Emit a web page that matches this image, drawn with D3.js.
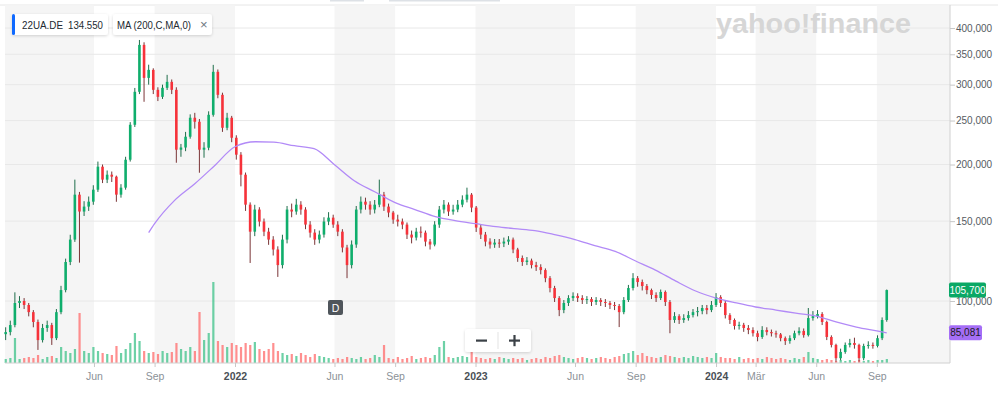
<!DOCTYPE html>
<html>
<head>
<meta charset="utf-8">
<script src="https://cdn.jsdelivr.net/npm/d3@7"></script>
<style>
  html, body { margin: 0; padding: 0; background: #fff; overflow: hidden; }
  svg { display: block; font-family: "Liberation Sans", Arial, sans-serif; }
</style>
</head>
<body>
<svg id="chart"></svg>
<script>
// weekly candles, 22UA.DE
const weeks = d3.timeMonday.range(new Date(2021, 0, 18), new Date(2024, 8, 17));

const open = [
  84.5, 85.4, 88.5, 99.0, 100.0, 98.0, 94.5, 89.9, 82.0, 87.2,
  88.5, 82.8, 94.5, 105.7, 121.9, 136.6, 171.6, 157.5, 161.5, 165.6,
  176.0, 197.8, 185.2, 189.9, 188.0, 171.6, 177.8, 204.9, 244.7, 289.3,
  367.1, 310.5, 323.4, 292.2, 282.0, 295.2, 304.3, 292.2, 215.6, 218.0,
  230.3, 253.6, 248.5, 215.6, 217.8, 257.4, 320.2, 284.9, 241.0, 253.6,
  229.1, 210.2, 189.9, 163.1, 142.2, 159.1, 149.7, 142.2, 136.6, 129.9,
  120.0, 136.6, 159.1, 157.5, 163.1, 159.1, 147.4, 141.5, 136.6, 140.1,
  149.7, 152.7, 147.4, 142.2, 131.2, 120.0, 133.2, 159.1, 165.6, 163.1,
  159.1, 163.1, 171.6, 161.5, 156.7, 151.2, 149.7, 147.4, 140.1, 138.0,
  142.2, 141.5, 135.2, 133.2, 147.4, 159.1, 163.1, 157.5, 159.1, 163.1,
  167.3, 171.6, 160.7, 145.2, 140.1, 135.2, 133.2, 134.5, 133.9, 135.2,
  136.6, 129.9, 124.4, 121.9, 122.8, 120.0, 118.8, 117.0, 112.3, 106.8,
  101.5, 95.5, 99.0, 101.5, 102.6, 101.5, 100.5, 101.0, 99.5, 100.5,
  99.5, 99.0, 98.0, 97.5, 94.5, 100.5, 106.8, 112.3, 110.1, 107.9,
  105.7, 103.1, 101.5, 104.7, 99.5, 90.8, 92.6, 90.8, 91.7, 93.1,
  94.5, 95.0, 96.5, 95.5, 98.0, 102.0, 99.0, 93.1, 90.8, 88.1,
  88.6, 87.2, 86.3, 84.9, 83.3, 86.3, 85.4, 84.9, 84.4, 82.8,
  81.6, 82.8, 84.9, 85.9, 84.1, 91.7, 92.6, 93.6, 89.9, 83.3,
  80.0, 74.8, 77.2, 80.0, 80.8, 80.0, 74.8, 79.6, 80.0, 79.6,
  82.8, 90.8
];

const high = [
  87.5, 90.5, 104.5, 102.5, 101.5, 99.0, 95.5, 91.0, 89.0, 90.5,
  89.5, 96.0, 108.0, 124.0, 140.0, 185.2, 174.0, 166.0, 170.0, 180.0,
  203.0, 200.0, 194.0, 193.0, 189.0, 181.0, 208.0, 248.0, 295.0, 376.4,
  372.0, 332.0, 326.0, 296.0, 300.0, 315.3, 308.0, 296.0, 222.0, 236.0,
  258.0, 260.0, 252.0, 224.0, 262.0, 331.7, 324.0, 288.0, 260.0, 256.0,
  232.0, 213.0, 192.0, 165.0, 163.0, 161.0, 152.0, 145.0, 139.0, 132.0,
  140.0, 162.0, 164.0, 168.0, 166.0, 161.0, 150.0, 144.0, 143.0, 153.0,
  157.0, 155.0, 150.0, 144.0, 133.0, 136.0, 162.0, 170.0, 169.0, 166.0,
  167.0, 185.2, 174.0, 164.0, 158.0, 155.0, 152.0, 149.0, 143.0, 145.0,
  146.0, 143.0, 137.0, 150.0, 162.0, 167.0, 165.0, 163.0, 167.0, 171.0,
  177.8, 173.0, 162.0, 147.0, 142.0, 137.5, 137.0, 137.0, 138.0, 139.0,
  138.0, 131.0, 126.0, 125.0, 124.0, 122.0, 120.5, 118.0, 113.5, 108.0,
  102.5, 100.5, 103.0, 104.5, 104.0, 103.0, 102.5, 102.0, 102.0, 101.5,
  101.0, 100.0, 99.5, 98.5, 102.0, 108.5, 115.2, 113.5, 111.5, 109.0,
  106.5, 104.5, 106.0, 105.5, 100.5, 94.5, 93.5, 93.5, 95.0, 96.0,
  97.0, 98.0, 98.0, 100.0, 104.1, 103.0, 100.0, 94.0, 91.5, 90.0,
  89.5, 88.5, 87.5, 86.0, 88.0, 87.5, 86.5, 86.0, 85.0, 83.5,
  84.0, 86.0, 87.5, 87.0, 96.5, 95.0, 95.5, 94.5, 90.5, 84.0,
  80.5, 78.5, 81.0, 82.5, 83.0, 80.5, 80.5, 81.5, 81.0, 84.0,
  92.0, 106.0
];

const low = [
  82.0, 84.0, 87.5, 96.5, 96.0, 92.5, 87.5, 78.0, 81.0, 85.5,
  80.0, 82.0, 93.5, 104.5, 120.0, 135.0, 121.5, 154.0, 158.0, 163.0,
  174.0, 182.0, 182.0, 183.0, 165.5, 169.0, 176.0, 203.0, 242.0, 286.0,
  275.0, 300.0, 286.0, 276.0, 279.0, 292.0, 286.0, 201.8, 208.0, 214.0,
  228.0, 240.0, 191.8, 207.0, 215.0, 255.0, 280.0, 236.0, 238.0, 224.0,
  205.0, 179.0, 158.0, 121.3, 139.0, 146.0, 139.0, 133.0, 126.0, 113.0,
  118.0, 134.0, 153.0, 155.0, 155.0, 144.0, 138.0, 133.0, 134.0, 138.0,
  147.0, 145.0, 139.0, 128.0, 112.3, 118.0, 131.0, 156.0, 159.0, 155.0,
  156.0, 161.0, 158.0, 153.0, 148.0, 146.0, 144.0, 137.0, 134.0, 136.0,
  138.0, 132.0, 129.9, 132.0, 145.0, 156.0, 154.0, 155.0, 157.0, 161.0,
  165.0, 157.0, 142.0, 137.0, 132.0, 130.5, 131.0, 131.0, 131.5, 133.0,
  127.5, 122.0, 119.5, 120.0, 118.0, 116.5, 114.5, 110.0, 104.5, 99.5,
  92.6, 94.0, 97.5, 100.0, 99.5, 98.5, 98.5, 97.5, 98.0, 97.5,
  97.0, 96.0, 95.5, 87.6, 93.5, 99.5, 105.5, 107.5, 105.5, 103.5,
  101.0, 99.5, 100.5, 97.5, 84.9, 89.5, 89.0, 89.5, 90.5, 92.0,
  92.5, 93.5, 93.5, 94.5, 97.0, 97.0, 91.5, 89.0, 86.5, 86.5,
  85.5, 84.5, 83.5, 81.5, 82.5, 84.0, 83.5, 83.0, 81.5, 80.0,
  80.5, 82.0, 84.0, 83.0, 83.5, 90.5, 91.5, 88.5, 82.0, 79.0,
  73.5, 74.0, 76.5, 79.0, 78.5, 73.5, 74.0, 78.5, 78.5, 79.0,
  82.0, 90.0
];

const close = [
  85.4, 88.5, 99.0, 100.0, 98.0, 94.5, 89.9, 82.0, 87.2, 88.5,
  82.8, 94.5, 105.7, 121.9, 136.6, 171.6, 157.5, 161.5, 165.6, 176.0,
  197.8, 185.2, 189.9, 188.0, 171.6, 177.8, 204.9, 244.7, 289.3, 367.1,
  310.5, 323.4, 292.2, 282.0, 295.2, 304.3, 292.2, 215.6, 218.0, 230.3,
  253.6, 248.5, 215.6, 217.8, 257.4, 320.2, 284.9, 241.0, 253.6, 229.1,
  210.2, 189.9, 163.1, 142.2, 159.1, 149.7, 142.2, 136.6, 129.9, 120.0,
  136.6, 159.1, 157.5, 163.1, 159.1, 147.4, 141.5, 136.6, 140.1, 149.7,
  152.7, 147.4, 142.2, 131.2, 120.0, 133.2, 159.1, 165.6, 163.1, 159.1,
  163.1, 171.6, 161.5, 156.7, 151.2, 149.7, 147.4, 140.1, 138.0, 142.2,
  141.5, 135.2, 133.2, 147.4, 159.1, 163.1, 157.5, 159.1, 163.1, 167.3,
  171.6, 160.7, 145.2, 140.1, 135.2, 133.2, 134.5, 133.9, 135.2, 136.6,
  129.9, 124.4, 121.9, 122.8, 120.0, 118.8, 117.0, 112.3, 106.8, 101.5,
  95.5, 99.0, 101.5, 102.6, 101.5, 100.5, 101.0, 99.5, 100.5, 99.5,
  99.0, 98.0, 97.5, 94.5, 100.5, 106.8, 112.3, 110.1, 107.9, 105.7,
  103.1, 101.5, 104.7, 99.5, 90.8, 92.6, 90.8, 91.7, 93.1, 94.5,
  95.0, 96.5, 95.5, 98.0, 102.0, 99.0, 93.1, 90.8, 88.1, 88.6,
  87.2, 86.3, 84.9, 83.3, 86.3, 85.4, 84.9, 84.4, 82.8, 81.6,
  82.8, 84.9, 85.9, 84.1, 91.7, 92.6, 93.6, 89.9, 83.3, 80.0,
  74.8, 77.2, 80.0, 80.8, 80.0, 74.8, 79.6, 80.0, 79.6, 82.8,
  90.8, 105.7
];

// volume in thousand shares
const volume = [
  4, 5, 25, 4, 5, 6, 5, 8, 4, 6,
  7, 5, 16, 12, 10, 14, 50, 12, 10, 16,
  12, 10, 9, 8, 17, 10, 14, 20, 30, 22,
  12, 10, 11, 9, 12, 10, 11, 20, 14, 12,
  16, 12, 51, 23, 30, 81, 22, 18, 16, 20,
  18, 16, 20, 18, 21, 14, 12, 14, 20, 12,
  10, 8, 9, 7, 10, 8, 6, 9, 7, 6,
  5, 4, 5, 4, 6, 5, 4, 6, 4, 5,
  8, 6, 18, 5, 4, 6, 4, 5, 7, 4,
  5, 6, 5, 8, 16, 22, 6, 5, 6, 7,
  6, 13, 6, 5, 4, 5, 4, 6, 5, 4,
  5, 4, 5, 3, 4, 5, 4, 6, 5, 7,
  8, 6, 5, 4, 5, 6, 5, 4, 5, 6,
  5, 4, 6, 7, 9, 10, 12, 8, 10, 7,
  6, 5, 6, 8, 7, 6, 5, 6, 5, 7,
  6, 5, 6, 5, 10, 6, 5, 5, 4, 6,
  4, 5, 4, 5, 4, 6, 5, 4, 5, 4,
  3, 5, 4, 6, 11, 5, 4, 3, 4, 3,
  2, 3, 2, 3, 2, 3, 2, 3, 2, 3,
  3, 4
];

// 200-day moving average, read at month starts
const maDates = [
  "2021-08-23", "2021-09-01", "2021-10-01", "2021-11-01", "2021-12-01",
  "2022-01-01", "2022-02-01", "2022-03-01", "2022-04-01", "2022-05-01",
  "2022-06-01", "2022-07-01", "2022-08-01", "2022-09-01", "2022-10-01",
  "2022-11-01", "2022-12-01", "2023-01-01", "2023-02-01", "2023-03-01",
  "2023-04-01", "2023-05-01", "2023-06-01", "2023-07-01", "2023-08-01",
  "2023-09-01", "2023-10-01", "2023-11-01", "2023-12-01", "2024-01-01",
  "2024-02-01", "2024-03-01", "2024-04-01", "2024-05-01", "2024-06-01",
  "2024-07-01", "2024-08-01", "2024-09-01", "2024-09-16"
];
const maValues = [
  141.5, 148.1, 166.5, 181.4, 198.8,
  218.9, 224.5, 224.0, 220.0, 216.7,
  199.8, 184.2, 174.2, 164.8, 159.1,
  153.5, 150.4, 148.1, 145.9, 144.4,
  143.0, 140.1, 136.6, 132.5, 128.6,
  122.5, 117.0, 110.6, 105.2, 101.5,
  99.0, 97.0, 95.5, 94.0, 92.6,
  89.9, 87.6, 85.9, 85.081
];

const xTickDates = [
  "2021-06-01", "2021-09-01", "2022-01-01", "2022-06-01", "2022-09-01", "2023-01-01",
  "2023-06-01", "2023-09-01", "2024-01-01", "2024-03-01", "2024-06-01", "2024-09-01"
];
const xTickLabels = ["Jun", "Sep", "2022", "Jun", "Sep", "2023", "Jun", "Sep", "2024", "Mär", "Jun", "Sep"];
const yTicks = [100, 150, 200, 250, 300, 350, 400];

const lastPrice = 105.7;
const lastMa = 85.081;

const width = 998;
const height = 397;
const plotLeft = 5;
const plotRight = 950;
const plotTop = 5;
const plotBottom = 363;

const green = "#0fae6c";
const red = "#f6323a";

const parse = d3.timeParse("%Y-%m-%d");
const de = d3.formatLocale({ decimal: ",", thousands: ".", grouping: [3], currency: ["", " €"] });
const fmt = de.format(".3f");

const svg = d3.select("#chart").attr("width", width).attr("height", height);

const defs = svg.append("defs");
const shadow = defs.append("filter").attr("id", "shadow").attr("x", "-20%").attr("y", "-40%")
  .attr("width", "140%").attr("height", "180%");
shadow.append("feDropShadow").attr("dx", 0).attr("dy", 1).attr("stdDeviation", 1.5)
  .attr("flood-color", "#000").attr("flood-opacity", 0.16);

const x = d3.scaleTime()
  .domain([new Date(2021, 0, 17), new Date(2024, 11, 21)])
  .range([plotLeft, plotRight]);
const y = d3.scaleLog().domain([100, 400]).range([301, 28]);
const yVol = d3.scaleLinear().domain([0, 100]).range([plotBottom, plotBottom - 100]);

// top toolbar remnants
svg.append("rect").attr("x", 330).attr("y", 0).attr("width", 34).attr("height", 1.5).attr("fill", "#dde1e6");
svg.append("rect").attr("x", 389).attr("y", 0).attr("width", 111).attr("height", 1.5).attr("fill", "#dde1e6");
svg.append("line").attr("x1", 0).attr("x2", width).attr("y1", plotTop).attr("y2", plotTop)
  .attr("stroke", "#e6e6e6");

// alternating background bands
const edges = [x.domain()[0], ...xTickDates.map(parse), x.domain()[1]];
svg.append("g").selectAll("rect")
  .data(d3.pairs(edges).filter((d, i) => i % 2 === 0))
  .enter().append("rect")
  .attr("x", (d) => x(d[0]))
  .attr("width", (d) => x(d[1]) - x(d[0]))
  .attr("y", plotTop + 0.5)
  .attr("height", plotBottom - plotTop - 0.5)
  .attr("fill", "#f5f5f5");

// grid lines
svg.append("g").selectAll("line").data(yTicks).enter().append("line")
  .attr("x1", plotLeft).attr("x2", plotRight)
  .attr("y1", (d) => y(d)).attr("y2", (d) => y(d))
  .attr("stroke", "#e8e8e8");

// yahoo finance watermark
svg.append("text")
  .attr("x", 716).attr("y", 33)
  .attr("textLength", 195).attr("lengthAdjust", "spacingAndGlyphs")
  .attr("font-size", 27).attr("font-weight", 700)
  .attr("fill", "#d6d6d6")
  .text("yahoo!finance");

const data = weeks.map((d, i) => ({
  date: d, o: open[i], h: high[i], l: low[i], c: close[i], v: volume[i]
}));

// volume bars
svg.append("g").selectAll("rect").data(data).enter().append("rect")
  .attr("x", (d) => x(d.date) - 1)
  .attr("width", 2.2)
  .attr("y", (d) => yVol(d.v))
  .attr("height", (d) => plotBottom - yVol(d.v))
  .attr("fill", (d) => (d.c >= d.o ? "#3cc188" : "#ff6a6a"))
  .attr("opacity", 0.75);

// candles
const candles = svg.append("g").selectAll("g").data(data).enter().append("g");
candles.append("line")
  .attr("x1", (d) => x(d.date)).attr("x2", (d) => x(d.date))
  .attr("y1", (d) => y(d.h)).attr("y2", (d) => y(d.l))
  .attr("stroke", (d) => (d.c >= d.o ? "#1f6e4b" : "#7a3436"))
  .attr("stroke-width", 1);
candles.append("rect")
  .attr("x", (d) => x(d.date) - 1.3)
  .attr("width", 2.6)
  .attr("y", (d) => y(Math.max(d.o, d.c)))
  .attr("height", (d) => Math.max(1, y(Math.min(d.o, d.c)) - y(Math.max(d.o, d.c))))
  .attr("fill", (d) => (d.c >= d.o ? green : red));

// moving average
const ma = maDates.map((d, i) => ({ date: parse(d), v: maValues[i] }));
svg.append("path")
  .datum(ma)
  .attr("fill", "none")
  .attr("stroke", "#b28af7")
  .attr("stroke-width", 1.3)
  .attr("d", d3.line().x((d) => x(d.date)).y((d) => y(d.v)).curve(d3.curveMonotoneX));

// frame
svg.append("line").attr("x1", plotRight).attr("x2", plotRight).attr("y1", plotTop).attr("y2", plotBottom)
  .attr("stroke", "#d0d0d0");
svg.append("line").attr("x1", plotLeft).attr("x2", plotRight).attr("y1", plotBottom).attr("y2", plotBottom)
  .attr("stroke", "#d0d0d0");

// axes
const yAxis = d3.axisRight(y).tickValues(yTicks).tickFormat(fmt).tickSize(5).tickPadding(1);
const gy = svg.append("g").attr("transform", `translate(${plotRight},0)`).call(yAxis);
gy.select(".domain").remove();
gy.selectAll("line").attr("stroke", "#c8c8c8");
gy.selectAll("text").attr("font-size", 10).attr("fill", "#555b61").attr("font-family", null);

const xAxis = d3.axisBottom(x)
  .tickValues(xTickDates.map(parse))
  .tickFormat((d, i) => xTickLabels[i])
  .tickSize(4).tickPadding(6);
const gx = svg.append("g").attr("transform", `translate(0,${plotBottom})`).call(xAxis);
gx.select(".domain").remove();
gx.selectAll("line").attr("stroke", "#c8c8c8");
gx.selectAll("text")
  .attr("font-size", 10.5)
  .attr("font-family", null)
  .attr("fill", (d, i) => (/^\d+$/.test(xTickLabels[i]) ? "#4a5056" : "#8b9197"))
  .attr("font-weight", (d, i) => (/^\d+$/.test(xTickLabels[i]) ? 700 : 400));

// price badges
const badge = (value, fill, textFill, w) => {
  const g = svg.append("g").attr("transform", `translate(${plotRight - 1},${y(value)})`);
  g.append("rect").attr("x", 0).attr("y", -7.5).attr("width", w).attr("height", 15)
    .attr("rx", 2).attr("fill", fill);
  g.append("text").attr("x", w / 2).attr("y", 3.6).attr("text-anchor", "middle")
    .attr("font-size", 10).attr("fill", textFill).text(fmt(value));
};
badge(lastPrice, "#0aa865", "#fff", 37);
badge(lastMa, "#a56ef6", "#1d1d1d", 33);

// legend chips
const chip = (x0, w, parts) => {
  const g = svg.append("g").attr("transform", `translate(${x0},14)`);
  g.append("rect").attr("width", w).attr("height", 21).attr("rx", 3).attr("fill", "#fff")
    .attr("filter", "url(#shadow)");
  parts(g);
};
chip(12, 96, (g) => {
  g.append("rect").attr("width", 3).attr("height", 21).attr("rx", 1.5).attr("fill", "#0f69ff");
  g.append("text").attr("x", 10).attr("y", 14.5).attr("font-size", 10.5).attr("fill", "#232a31")
    .attr("textLength", 41).attr("lengthAdjust", "spacingAndGlyphs")
    .text("22UA.DE");
  g.append("text").attr("x", 56).attr("y", 14.5).attr("font-size", 10.5).attr("fill", "#232a31")
    .attr("textLength", 35).attr("lengthAdjust", "spacingAndGlyphs")
    .text("134.550");
});
chip(113, 99, (g) => {
  g.append("text").attr("x", 4).attr("y", 14.5).attr("font-size", 10.5).attr("fill", "#232a31")
    .attr("textLength", 74).attr("lengthAdjust", "spacingAndGlyphs")
    .text("MA (200,C,MA,0)");
  g.append("text").attr("x", 87).attr("y", 15).attr("font-size", 13).attr("fill", "#6e7780")
    .text("×");
});

// interval marker
svg.append("rect").attr("x", 328).attr("y", 300).attr("width", 15).attr("height", 15)
  .attr("rx", 2).attr("fill", "#4f555b");
svg.append("text").attr("x", 335.5).attr("y", 311.5).attr("text-anchor", "middle")
  .attr("font-size", 10.5).attr("fill", "#fff").text("D");

// zoom buttons
const zoomG = svg.append("g").attr("transform", "translate(465,329)");
zoomG.append("rect").attr("width", 66).attr("height", 23).attr("rx", 3).attr("fill", "#fff")
  .attr("filter", "url(#shadow)");
zoomG.append("line").attr("x1", 33).attr("x2", 33).attr("y1", 3).attr("y2", 20).attr("stroke", "#e3e3e3");
zoomG.append("rect").attr("x", 11).attr("y", 10.5).attr("width", 11).attr("height", 2.2).attr("fill", "#3b4147");
zoomG.append("rect").attr("x", 44).attr("y", 10.5).attr("width", 11).attr("height", 2.2).attr("fill", "#3b4147");
zoomG.append("rect").attr("x", 48.4).attr("y", 6).attr("width", 2.2).attr("height", 11.2).attr("fill", "#3b4147");
</script>
</body>
</html>
